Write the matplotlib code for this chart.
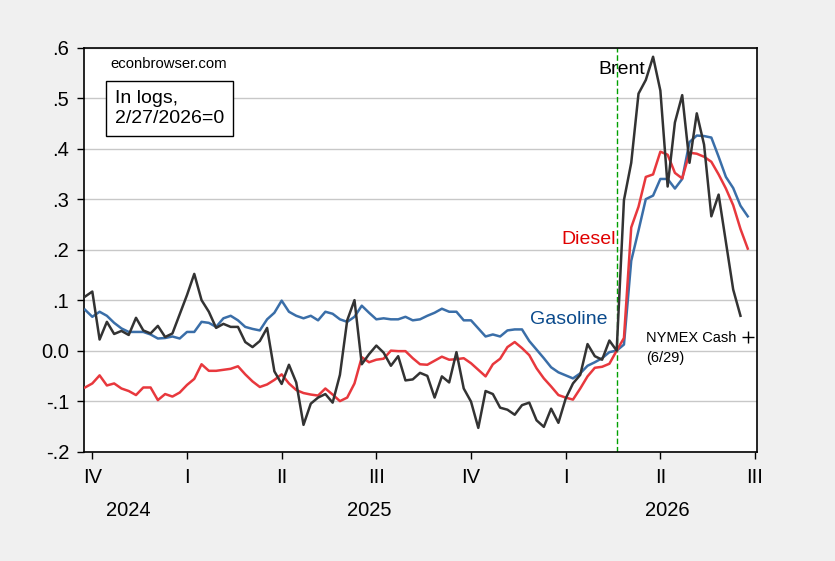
import numpy as np
import pandas as pd
import matplotlib
matplotlib.use("Agg")
import matplotlib.pyplot as plt
import matplotlib.dates as mdates
import matplotlib.transforms as mtransforms

plt.rcParams['font.family'] = ['Liberation Sans', 'DejaVu Sans']

# weekly observations (Fridays), log levels relative to 2/27/2026
dates = pd.date_range('2024-10-04', periods=92, freq='W-FRI')
base_date = pd.Timestamp('2026-02-27')

brent = [
    0.107, 0.117, 0.022, 0.057, 0.033, 0.039, 0.031, 0.065, 0.040, 0.034,
    0.049, 0.027, 0.034, 0.072, 0.110, 0.152, 0.100, 0.077, 0.045, 0.053,
    0.047, 0.047, 0.017, 0.007, 0.019, 0.045, -0.041, -0.066, -0.028, -0.063,
    -0.147, -0.105, -0.093, -0.086, -0.103, -0.048, 0.060, 0.100, -0.027, -0.007,
    0.010, -0.004, -0.030, -0.011, -0.059, -0.057, -0.044, -0.050, -0.093, -0.051,
    -0.063, -0.003, -0.075, -0.101, -0.153, -0.080, -0.086, -0.113, -0.117, -0.127,
    -0.108, -0.103, -0.138, -0.151, -0.115, -0.143, -0.095, -0.065, -0.048, 0.013,
    -0.011, -0.018, 0.020, 0.000, 0.298, 0.372, 0.509, 0.536, 0.582, 0.515,
    0.325, 0.452, 0.506, 0.372, 0.470, 0.408, 0.266, 0.309, 0.215, 0.121,
    0.069,
]
gasoline = [
    0.081, 0.067, 0.077, 0.069, 0.055, 0.044, 0.037, 0.037, 0.037, 0.032,
    0.024, 0.025, 0.028, 0.024, 0.037, 0.037, 0.057, 0.055, 0.047, 0.064,
    0.069, 0.060, 0.047, 0.043, 0.040, 0.062, 0.075, 0.099, 0.077, 0.069,
    0.064, 0.069, 0.060, 0.077, 0.073, 0.062, 0.057, 0.067, 0.089, 0.075,
    0.062, 0.064, 0.062, 0.062, 0.067, 0.060, 0.062, 0.069, 0.075, 0.083,
    0.077, 0.077, 0.060, 0.060, 0.044, 0.028, 0.032, 0.028, 0.040, 0.042,
    0.042, 0.019, 0.002, -0.015, -0.033, -0.043, -0.049, -0.055, -0.045, -0.030,
    -0.023, -0.015, -0.003, 0.000, 0.012, 0.178, 0.238, 0.300, 0.307, 0.340,
    0.340, 0.321, 0.340, 0.413, 0.426, 0.425, 0.422, 0.384, 0.344, 0.322,
    0.287, 0.266,
]
diesel = [
    -0.073, -0.065, -0.049, -0.069, -0.065, -0.075, -0.080, -0.088, -0.073, -0.073,
    -0.098, -0.086, -0.091, -0.083, -0.068, -0.056, -0.027, -0.040, -0.040, -0.038,
    -0.036, -0.031, -0.047, -0.061, -0.072, -0.067, -0.058, -0.047, -0.065, -0.078,
    -0.084, -0.087, -0.089, -0.075, -0.087, -0.100, -0.093, -0.065, -0.013, -0.023,
    -0.018, -0.016, 0.000, -0.001, -0.001, -0.015, -0.027, -0.028, -0.020, -0.012,
    -0.018, -0.017, -0.015, -0.025, -0.038, -0.051, -0.027, -0.016, 0.007, 0.017,
    0.005, -0.009, -0.035, -0.055, -0.071, -0.088, -0.093, -0.097, -0.075, -0.051,
    -0.034, -0.032, -0.026, 0.000, 0.025, 0.244, 0.285, 0.344, 0.349, 0.394,
    0.388, 0.352, 0.341, 0.392, 0.390, 0.384, 0.374, 0.349, 0.321, 0.288,
    0.241, 0.202,
]
nymex_gas = 0.027  # NYMEX cash, 6/29

quarter_ticks = pd.to_datetime(['2024-10-11', '2025-01-10', '2025-04-11', '2025-07-11',
                                '2025-10-10', '2026-01-09', '2026-04-10', '2026-07-10'])
quarter_labels = ['IV', 'I', 'II', 'III', 'IV', 'I', 'II', 'III']
year_labels = ['2024', '2025', '2026']
year_pos = pd.to_datetime(['2024-11-15', '2025-07-04', '2026-04-17'])
y_ticks = [0.6, 0.5, 0.4, 0.3, 0.2, 0.1, 0.0, -0.1, -0.2]
y_labels = ['.6', '.5', '.4', '.3', '.2', '.1', '0.0', '-.1', '-.2']

fig = plt.figure(figsize=(8.35, 5.61), dpi=100, facecolor='#f0f0f0')
ax = fig.add_axes([0.101, 0.195, 0.805, 0.72])
ax.set_facecolor('white')

ax.set_ylim(-0.2, 0.6)
ax.set_xlim(pd.Timestamp('2024-10-03 08:00'), pd.Timestamp('2026-07-11 10:00'))

for y in y_ticks:
    ax.axhline(y, color='#c8c8c8', lw=1.0, zorder=1)

ax.axvline(base_date, color='#00a000', lw=1.0, ls=(0, (4, 2)), zorder=2)

ax.plot(dates, gasoline, color='#3a6ea8', lw=1.8, zorder=3)
ax.plot(dates, diesel, color='#e8383d', lw=1.8, zorder=4)
ax.plot(dates[:len(brent)], brent, color='#333333', lw=1.8, zorder=5)
ax.plot([dates[-1]], [nymex_gas], marker='+', color='black', ms=8, mew=1.0, zorder=6)

ax.set_yticks(y_ticks)
ax.set_yticklabels(y_labels, fontsize=14.5)
ax.set_xticks(quarter_ticks)
ax.set_xticklabels(quarter_labels, fontsize=14.5)
ax.tick_params(axis='y', direction='out', length=5, width=1, pad=6, left=True, right=False)
ax.tick_params(axis='x', direction='out', length=5, width=1, pad=7, bottom=True, top=False)

for s in ax.spines.values():
    s.set_color('black')
    s.set_linewidth(1.2)

trans = mtransforms.blended_transform_factory(ax.transData, ax.transAxes)
for lab, d in zip(year_labels, year_pos):
    ax.text(mdates.date2num(d), -0.147, lab, transform=trans, ha='center', va='center',
            fontsize=14.5)

ax.text(0.038, 0.96, 'econbrowser.com', transform=ax.transAxes, ha='left', va='center',
        fontsize=10.7)
ax.text(0.127, 0.849, 'In logs,\n2/27/2026=0', transform=ax.transAxes, ha='center',
        va='center', multialignment='left', fontsize=14, linespacing=1.25,
        bbox=dict(boxstyle='square,pad=0.45', facecolor='white', edgecolor='black', lw=1.0))

ax.text(0.764, 0.945, 'Brent', transform=ax.transAxes, ha='left', va='center',
        fontsize=14, color='black')
ax.text(0.709, 0.524, 'Diesel', transform=ax.transAxes, ha='left', va='center',
        fontsize=14, color='#e00000')
ax.text(0.663, 0.326, 'Gasoline', transform=ax.transAxes, ha='left', va='center',
        fontsize=14, color='#0a4a8c')
ax.text(0.836, 0.281, 'NYMEX Cash', transform=ax.transAxes, ha='left', va='center',
        fontsize=10.5)
ax.text(0.836, 0.232, '(6/29)', transform=ax.transAxes, ha='left', va='center',
        fontsize=10.5)

fig.savefig('out.png', dpi=100, facecolor=fig.get_facecolor())
